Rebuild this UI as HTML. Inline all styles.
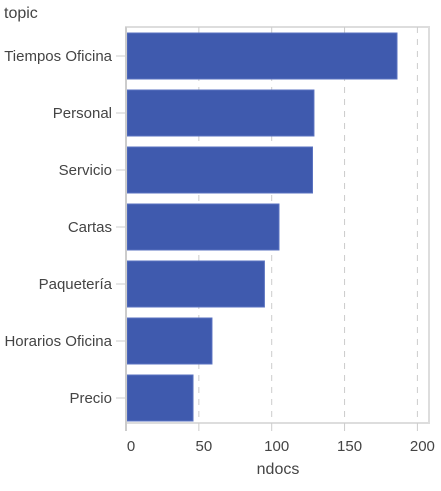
<!DOCTYPE html>
<html><head><meta charset="utf-8"><style>
body{margin:0;background:#fff;}
svg text{font-family:"Liberation Sans",sans-serif;fill:#444;}
</style></head><body>
<svg id="chart" width="441" height="486" xmlns="http://www.w3.org/2000/svg">
<text x="4" y="18" font-size="16">topic</text>
<text x="278" y="474" font-size="16" text-anchor="middle">ndocs</text>
<g id="grid"></g><g id="bars"></g><g id="axes"></g>
</svg>
<script>
const categories=["Tiempos Oficina","Personal","Servicio","Cartas","Paquetería","Horarios Oficina","Precio"];
const values=[186,129,128,105,95,59,46];
const ticks=[0,50,100,150,200];
const X0=126,K=1.457,TOP=27,BOT=423,RIGHT=429,STEP=57,BH=46,FIRST=33;
const xs=v=>X0+v*K;
const ns="http://www.w3.org/2000/svg";
function mk(tag,attrs,parent,text){const e=document.createElementNS(ns,tag);for(const k in attrs)e.setAttribute(k,attrs[k]);if(text!==undefined)e.textContent=text;document.getElementById(parent).appendChild(e);return e;}
const frame=mk("rect",{x:X0,y:TOP,width:RIGHT-X0,height:BOT-TOP,fill:"none",stroke:"#ddd","stroke-width":2},"grid");


ticks.forEach(t=>{
 if(t>0){const g=mk("line",{x1:xs(t),x2:xs(t),y1:TOP,y2:BOT,stroke:"#ccc","stroke-dasharray":"6,6"},"grid");
 
 }
 const tk=mk("line",{x1:xs(t),x2:xs(t),y1:BOT,y2:BOT+8,stroke:"#ccc"},"axes");
 
 
 const lb=mk("text",{x:xs(t)+5,y:451,"font-size":15,"text-anchor":"middle"},"axes",String(t));
 
 
});
const ax=mk("line",{x1:X0,x2:X0,y1:TOP,y2:BOT+8,stroke:"#ccc","stroke-width":2},"axes");


categories.forEach((c,i)=>{
 const y=FIRST+i*STEP;
 const b=mk("rect",{x:X0+1,y:y,width:xs(values[i])-X0-1,height:BH,fill:"#3f5aae",stroke:"#5a72c0","stroke-width":1},"bars");
 
 
 const tk=mk("line",{x1:X0-10,x2:X0,y1:y+BH/2,y2:y+BH/2,stroke:"#ccc"},"axes");
 
 
 const lb=mk("text",{x:X0-14,y:y+BH/2+5,"font-size":15,"text-anchor":"end"},"axes",c);
 
 
});
</script>
</body></html>
